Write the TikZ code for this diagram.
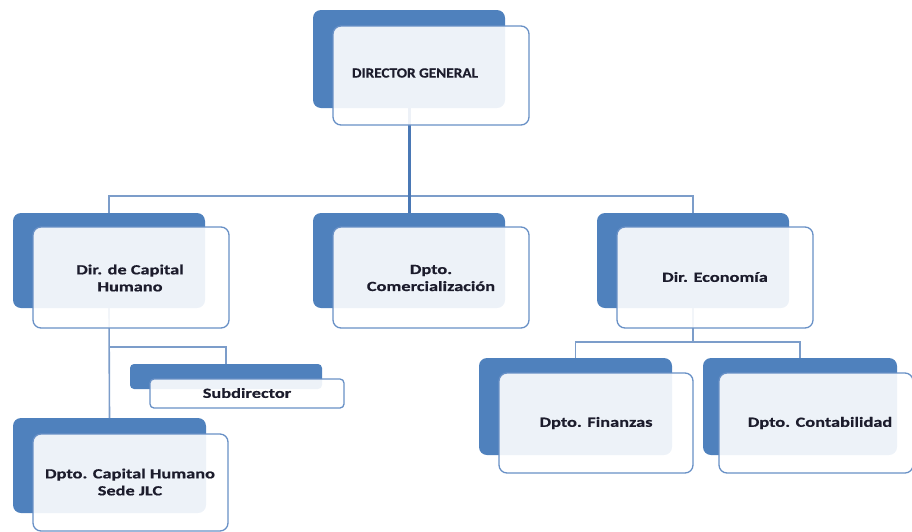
\documentclass[tikz,border=0pt]{standalone}
\usepackage{fontspec}
\setmainfont{Carlito}
\newfontfamily\boxfont[FakeStretch=1.31,BoldFeatures={FakeBold=0.6}]{Carlito}
\newfontfamily\capsfont[FakeStretch=1.09,BoldFeatures={FakeBold=0.6}]{Carlito}
\begin{document}
\begin{tikzpicture}[x=1pt,y=-1pt,
  back/.style={fill=cback, draw=none, rounded corners=8pt, inner sep=0pt, outer sep=0pt, anchor=north west},
  front/.style={fill=white, fill opacity=0.9, draw=cedge, line width=1.3pt, rounded corners=8pt, inner sep=0pt, outer sep=0pt, anchor=north west},
  label/.style={font=\boxfont\bfseries\fontsize{14}{17}\selectfont, text=ctext, align=center, inner sep=0pt},
  capslabel/.style={label, font=\capsfont\bfseries\fontsize{14}{17}\selectfont},
  link/.style={draw=clink, line width=1.6pt},
  mainlink/.style={draw=cmain, line width=3pt}]
\definecolor{cback}{HTML}{4F81BD}
\definecolor{cedge}{HTML}{6890C6}
\definecolor{clink}{HTML}{7C9DCA}
\definecolor{cmain}{HTML}{4A78B5}
\definecolor{ctext}{HTML}{1C1C2C}
\useasboundingbox (0,0) rectangle (912,531);

% back panels
\node[back, minimum width=192pt, minimum height=98pt] (dgb) at (313,10) {};
\node[back, minimum width=192pt, minimum height=95pt] (chb) at (13,213) {};
\node[back, minimum width=192pt, minimum height=95pt] (comb) at (313,213) {};
\node[back, minimum width=192pt, minimum height=95pt] (ecob) at (597,213) {};
\node[back, minimum width=192pt, minimum height=25pt, rounded corners=4pt] (subb) at (130,364) {};
\node[back, minimum width=193pt, minimum height=95pt] (jlcb) at (13,418) {};
\node[back, minimum width=193pt, minimum height=97pt] (finb) at (479,358) {};
\node[back, minimum width=194pt, minimum height=97pt] (conb) at (703,358) {};

% connectors
\coordinate (bus) at (409,196);
\draw[link] (chb.north) |- (bus) -| (ecob.north);
\draw[link] (bus) -- (comb.north);
\draw[mainlink] (dgb.south) -- (comb.north);
\coordinate (ecobus) at (693,342);
\draw[link] (ecob.south) -- (ecobus);
\draw[link] (finb.north) |- (ecobus) -| (conb.north);
\coordinate (chbus) at (109,347);
\draw[link] (chb.south) -- (jlcb.north);
\draw[link] (chbus) -| (subb.north);

% front panels
\node[front, minimum width=196pt, minimum height=99pt] (dg) at (333,26) {};
\node[front, minimum width=196pt, minimum height=101pt] (ch) at (33,227) {};
\node[front, minimum width=196pt, minimum height=101pt] (com) at (333,227) {};
\node[front, minimum width=196pt, minimum height=101pt] (eco) at (617,227) {};
\node[front, minimum width=194pt, minimum height=29pt, rounded corners=4pt] (sub) at (150,379) {};
\node[front, minimum width=194pt, minimum height=100pt] (fin) at (499,373) {};
\node[front, minimum width=194pt, minimum height=100pt] (con) at (719,373) {};
\node[front, minimum width=195pt, minimum height=97pt] (jlc) at (33,434) {};

% labels
\node[capslabel] (dgt) at (415,73) {DIRECTOR GENERAL};
\node[label] (cht) at (130,278) {Dir. de Capital\\Humano};
\node[label] (comt) at (431,278) {Dpto.\\Comercialización};
\node[label] (ecot) at (715,277) {Dir. Economía};
\node[label] (subt) at (247,393) {Subdirector};
\node[label] (fint) at (596,423) {Dpto. Finanzas};
\node[label] (cont) at (820,423) {Dpto. Contabilidad};
\node[label] (jlct) at (130,482) {Dpto. Capital Humano\\Sede JLC};
\end{tikzpicture}
\end{document}
